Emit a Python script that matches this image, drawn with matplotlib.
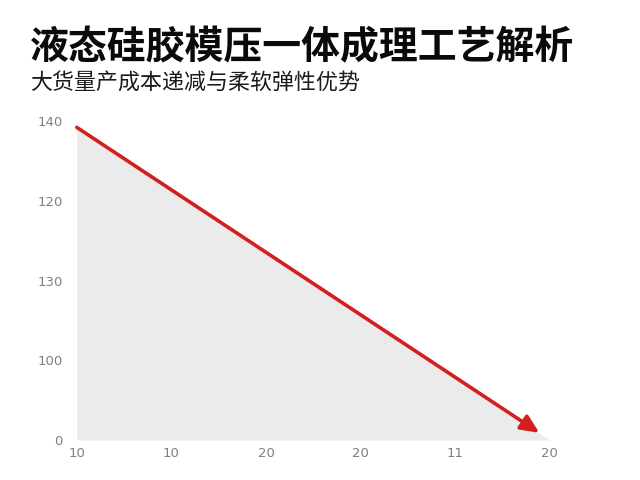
import matplotlib
matplotlib.use("Agg")
import matplotlib.pyplot as plt

# tick labels as printed on the chart (evenly spaced positions)
x_labels = ["10", "10", "20", "20", "11", "20"]
y_labels = ["0", "100", "130", "120", "140"]

# trend line (in tick-position units) and shaded area under it
line_x = [0.0, 4.89]
line_y = [3.92, 0.09]
fill_x = [0.0, 5.0]
fill_y = [3.92, 0.0]

title = "液态硅胶模压一体成理工艺解析"
subtitle = "大货量产成本递减与柔软弹性优势"

plt.rcParams['font.family'] = ['Noto Sans CJK SC', 'DejaVu Sans']

fig = plt.figure(figsize=(6.4, 4.8), dpi=100)
ax = fig.add_axes([0.120, 0.0833, 0.739, 0.6646])

ax.fill_between(fill_x, fill_y, 0, color="#ebebeb", linewidth=0)
ax.annotate("", xy=(line_x[1], line_y[1]), xytext=(line_x[0], line_y[0]),
            arrowprops=dict(arrowstyle="-|>,head_length=1.1,head_width=0.5",
                            color="#d41f1f", lw=2.6, shrinkA=0, shrinkB=0))

ax.set_xlim(0, 5)
ax.set_ylim(0, 4)
ax.set_xticks(range(len(x_labels)))
ax.set_xticklabels(x_labels, family="DejaVu Sans")
ax.set_yticks(range(len(y_labels)))
ax.set_yticklabels(y_labels, family="DejaVu Sans")
ax.tick_params(length=0, labelsize=9.5, labelcolor="#808080")
ax.tick_params(axis="x", pad=5)
ax.tick_params(axis="y", pad=10)
for s in ax.spines.values():
    s.set_visible(False)

fig.text(0.047, 0.9, title, fontsize=28, fontweight="heavy", color="#0a0a0a", va="center")
fig.text(0.047, 0.828, subtitle, fontsize=15.8, color="#1a1a1a", va="center")

fig.savefig("out.png", dpi=100)
